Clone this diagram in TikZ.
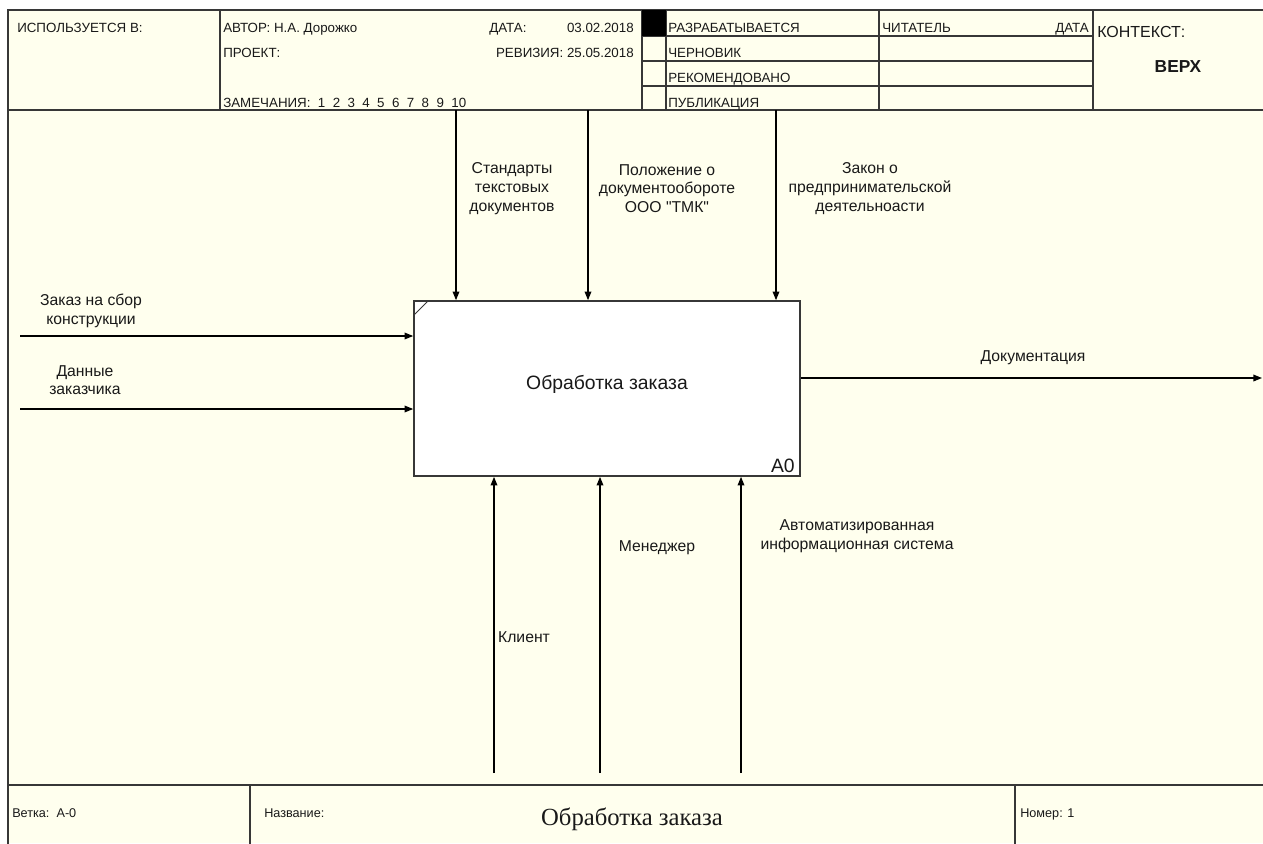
\documentclass[tikz,border=0pt]{standalone}
\usepackage{fontspec}
\setmainfont{Liberation Sans}
\newfontfamily\titleserif{Liberation Serif}
\usetikzlibrary{arrows.meta}
\definecolor{cream}{RGB}{255,255,238}
\definecolor{linec}{RGB}{55,55,55}
\definecolor{txt}{RGB}{25,25,25}
\begin{document}
\begin{tikzpicture}[x=0.75pt,y=-0.75pt,
  hdr/.style={font=\fontsize{10}{12}\selectfont, anchor=base west, inner sep=0pt, text=txt},
  hdrr/.style={hdr, anchor=base east},
  lbl/.style={font=\fontsize{11.8}{14}\selectfont, align=center, inner sep=0pt, text=txt},
  ftr/.style={font=\fontsize{9.5}{11}\selectfont, anchor=base west, inner sep=0pt, text=txt},
  frameline/.style={draw=linec, line width=1.5pt},
  gridline/.style={draw=linec, line width=1.1pt},
  arr/.style={draw=black, line width=1pt, -{Triangle[length=6.5pt,width=5pt]}},
  funcbox/.style={draw=linec, fill=white, line width=1.2pt, inner sep=0pt,
    minimum width=289.5pt, minimum height=131.25pt}]
\clip (0,0) rectangle (1263,843);
\fill[white] (0,0) rectangle (1263,843);
\fill[cream] (8,10) rectangle (1263,843);

% ---------- frame ----------
\draw[frameline] (8,850) -- (8,10) -- (1270,10);
\draw[frameline] (8,110) -- (1270,110);
\draw[frameline] (8,785) -- (1270,785);

% ---------- header grid ----------
\draw[gridline] (220,10) -- (220,110);
\draw[gridline] (642,10) -- (642,110);
\draw[gridline] (666,10) -- (666,110);
\draw[gridline] (879,10) -- (879,110);
\draw[gridline] (1093,10) -- (1093,110);
\draw[gridline] (642,36) -- (1093,36);
\draw[gridline] (642,61) -- (1093,61);
\draw[gridline] (642,86) -- (1093,86);
\fill[black] (642,10) rectangle (666,36);

% ---------- footer grid ----------
\draw[gridline] (250,785) -- (250,850);
\draw[gridline] (1015,785) -- (1015,850);

% ---------- header texts ----------
\node[hdr] (usedin) at (17,32) {ИСПОЛЬЗУЕТСЯ В:};
\node[hdr] (author) at (223,32) {АВТОР: Н.А. Дорожко};
\node[hdr] (project) at (223,57) {ПРОЕКТ:};
\node[hdr] (notes) at (223,107) {ЗАМЕЧАНИЯ:\ \ 1\ \ 2\ \ 3\ \ 4\ \ 5\ \ 6\ \ 7\ \ 8\ \ 9\ \ 10};
\node[hdr] (date) at (489,32) {ДАТА:};
\node[hdrr] (dateval) at (634,32) {03.02.2018};
\node[hdrr] (rev) at (634,57) {РЕВИЗИЯ: 25.05.2018};
\node[hdr] (st1) at (668,32) {РАЗРАБАТЫВАЕТСЯ};
\node[hdr] (st2) at (668,57) {ЧЕРНОВИК};
\node[hdr] (st3) at (668,82) {РЕКОМЕНДОВАНО};
\node[hdr] (st4) at (668,107) {ПУБЛИКАЦИЯ};
\node[hdr] (reader) at (882,32) {ЧИТАТЕЛЬ};
\node[hdrr] (rdate) at (1089,32) {ДАТА};
\node[hdr, font=\fontsize{12}{14}\selectfont] (ctx) at (1097,37) {КОНТЕКСТ:};
\node[hdr, anchor=base, font=\fontsize{13}{15}\selectfont\bfseries] (top) at (1178,72) {ВЕРХ};

% ---------- footer texts ----------
\node[ftr] (branch) at (12,817) {Ветка:\ \ A-0};
\node[ftr] (name) at (264,817) {Название:};
\node[ftr] (num) at (1020,817) {Номер: 1};
\node[anchor=base, inner sep=0pt, text=txt, font=\titleserif\fontsize{18.5}{20}\selectfont] (title) at (632,825) {Обработка заказа};

% ---------- function box ----------
\node[funcbox] (A0) at (607,388.5) {};
\node[inner sep=0pt, text=txt, font=\fontsize{14.5}{16}\selectfont] (A0txt) at (607,384) {Обработка заказа};
\node[inner sep=0pt, anchor=base east, text=txt, font=\fontsize{14.5}{16}\selectfont] (A0num) at (795,472) {A0};
\draw[draw=linec, line width=0.7pt] (414,315) -- (428,301);

% ---------- inputs ----------
\coordinate (in1) at (20,336);
\coordinate (in2) at (20,409);
\draw[arr] (in1) -- (in1 -| A0.west);
\draw[arr] (in2) -- (in2 -| A0.west);
\node[lbl] (in1l) at (91,311) {Заказ на сбор\\конструкции};
\node[lbl] (in2l) at (85,380) {Данные\\заказчика};

% ---------- controls ----------
\coordinate (c1) at (456,110);
\coordinate (c2) at (588,110);
\coordinate (c3) at (776,110);
\draw[arr] (c1) -- (c1 |- A0.north);
\draw[arr] (c2) -- (c2 |- A0.north);
\draw[arr] (c3) -- (c3 |- A0.north);
\node[lbl] (c1l) at (512,188.5) {Стандарты\\текстовых\\документов};
\node[lbl] (c2l) at (667,188.5) {Положение о\\документообороте\\ООО \textquotedbl ТМК\textquotedbl};
\node[lbl] (c3l) at (870,188.5) {Закон о\\предпринимательской\\деятельноасти};

% ---------- output ----------
\coordinate (out1) at (1262,378);
\draw[arr] (out1 -| A0.east) -- (out1);
\node[lbl] (out1l) at (1033,358) {Документация};

% ---------- mechanisms ----------
\coordinate (m1) at (494,773);
\coordinate (m2) at (600,773);
\coordinate (m3) at (741,773);
\draw[arr] (m1) -- (m1 |- A0.south);
\draw[arr] (m2) -- (m2 |- A0.south);
\draw[arr] (m3) -- (m3 |- A0.south);
\node[lbl] (m1l) at (524,637) {Клиент};
\node[lbl] (m2l) at (657,548) {Менеджер};
\node[lbl] (m3l) at (857,536) {Автоматизированная\\информационная система};
\end{tikzpicture}
\end{document}
